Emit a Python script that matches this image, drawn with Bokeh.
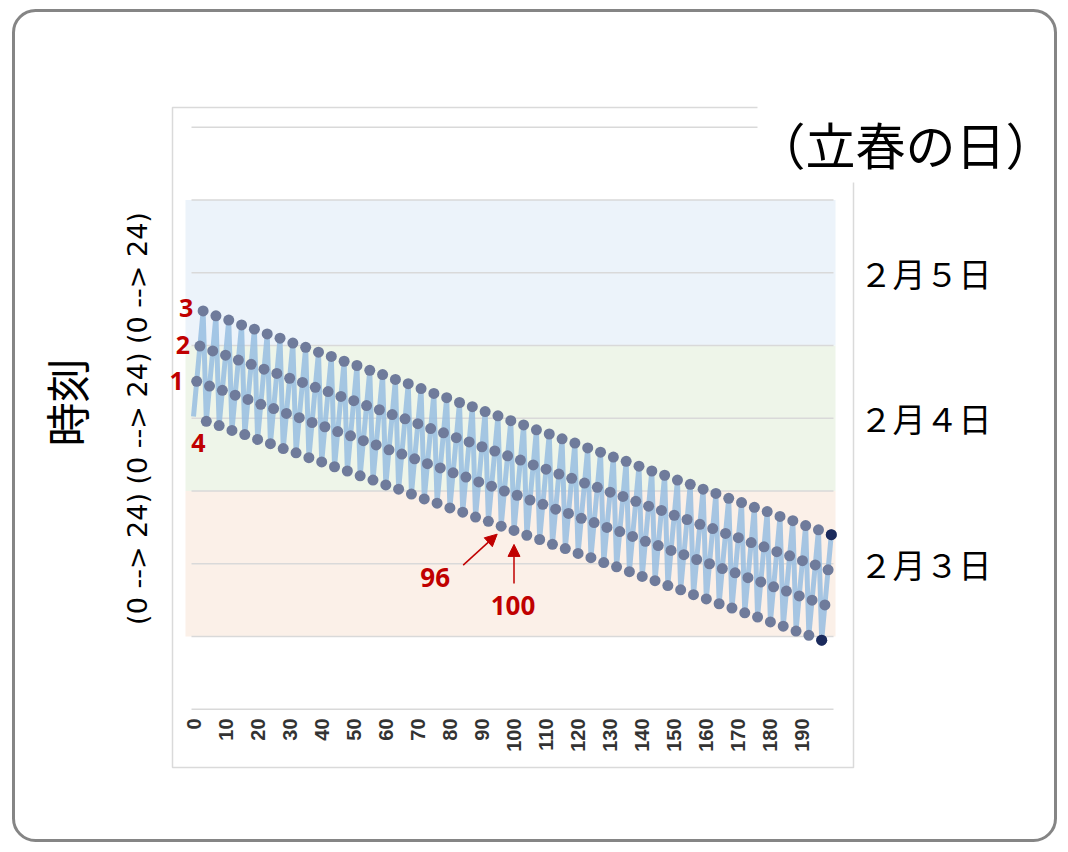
import math
from bokeh.plotting import figure
from bokeh.models import Range1d, Label, BoxAnnotation, Arrow, NormalHead
from bokeh.core.properties import value
from bokeh.embed import file_html
from bokeh.resources import INLINE

# ---------------- data ----------------
# hours counted from 2月3日 0:00, one point per year, 4-year cycle
series_0 = [36.3, 35.5, 34.8, 34.0, 33.3, 32.5, 31.8, 31.0, 30.3, 29.5,
            28.8, 28.0, 27.3, 26.5, 25.8, 25.0, 24.3, 23.5, 22.7, 22.0,
            21.2, 20.5, 19.7, 19.0, 18.2, 17.5, 16.7, 16.0, 15.2, 14.5,
            13.7, 13.0, 12.2, 11.5, 10.7, 9.9, 9.2, 8.4, 7.7, 6.9,
            6.2, 5.4, 4.7, 3.9, 3.2, 2.4, 1.7, 0.9, 0.2, -0.6]
series_1 = [42.1, 41.3, 40.6, 39.8, 39.1, 38.3, 37.6, 36.8, 36.1, 35.3,
            34.6, 33.8, 33.1, 32.3, 31.6, 30.8, 30.1, 29.3, 28.5, 27.8,
            27.0, 26.3, 25.5, 24.8, 24.0, 23.3, 22.5, 21.8, 21.0, 20.3,
            19.5, 18.8, 18.0, 17.3, 16.5, 15.7, 15.0, 14.2, 13.5, 12.7,
            12.0, 11.2, 10.5, 9.7, 9.0, 8.2, 7.5, 6.7, 6.0, 5.2]
series_2 = [47.9, 47.1, 46.4, 45.6, 44.9, 44.1, 43.4, 42.6, 41.9, 41.1,
            40.4, 39.6, 38.9, 38.1, 37.4, 36.6, 35.9, 35.1, 34.3, 33.6,
            32.8, 32.1, 31.3, 30.6, 29.8, 29.1, 28.3, 27.6, 26.8, 26.1,
            25.3, 24.6, 23.8, 23.1, 22.3, 21.5, 20.8, 20.0, 19.3, 18.5,
            17.8, 17.0, 16.3, 15.5, 14.8, 14.0, 13.3, 12.5, 11.8, 11.0]
series_3 = [53.7, 52.9, 52.2, 51.4, 50.7, 49.9, 49.2, 48.4, 47.7, 46.9,
            46.2, 45.4, 44.7, 43.9, 43.2, 42.4, 41.7, 40.9, 40.1, 39.4,
            38.6, 37.9, 37.1, 36.4, 35.6, 34.9, 34.1, 33.4, 32.6, 31.9,
            31.1, 30.4, 29.6, 28.9, 28.1, 27.3, 26.6, 25.8, 25.1, 24.3,
            23.6, 22.8, 22.1, 21.3, 20.6, 19.8, 19.1, 18.3, 17.6, 16.8]

x_ticks = [0, 10, 20, 30, 40, 50, 60, 70, 80, 90,
           100, 110, 120, 130, 140, 150, 160, 170, 180, 190]
x_tick_labels = [str(t) for t in x_ticks]
grid_levels = [-12, 0, 12, 24, 36, 48, 60, 72, 84]
band_bottoms = [0, 24, 48]
band_tops = [24, 48, 72]
band_labels = ["２月３日", "２月４日", "２月５日"]
band_colors = ["#fbf0e8", "#eef5e9", "#ecf3fa"]
title_text = "（立春の日）"
y_title = "時刻"
y_subtitle = "(0 --> 24) (0 --> 24) (0 --> 24)"
cycle_labels = ["1", "2", "3", "4"]     # points 1..4
cycle_index = [1, 2, 3, 4]
callout_index = [96, 100]
highlight_index = [196, 199]

# interleave the four cycle series into one sequence
ys = []
for k in range(len(series_0)):
    ys.extend([series_0[k], series_1[k], series_2[k], series_3[k]])
xs = list(range(len(ys)))

# ---------------- layout helpers ----------------
W, H = 1068, 852
PX0, SX = 193.0, 3.205      # pixel of x=0, px per unit
PY0, SY = 636.0, 6.0625     # pixel of y=0, px per hour

def dx(px):
    return (px - PX0) / SX

def dy(py):
    return (PY0 - py) / SY

RED = "#c00000"

p = figure(width=W, height=H,
           x_range=Range1d(dx(0), dx(W)), y_range=Range1d(dy(H), dy(0)),
           output_backend="svg", toolbar_location=None,
           x_axis_location=None, y_axis_location=None, min_border=0)
p.outline_line_color = None
p.xgrid.visible = False
p.ygrid.visible = False
p.background_fill_color = "white"
p.border_fill_color = "white"

# outer rounded border
p.add_layout(BoxAnnotation(left=dx(13), right=dx(1055), top=dy(10), bottom=dy(840),
                           fill_alpha=0, line_color="#858585", line_alpha=1, line_width=3,
                           line_dash="solid", border_radius=22, level="image"))
# inner chart frame
p.add_layout(BoxAnnotation(left=dx(172), right=dx(853), top=dy(107), bottom=dy(767),
                           fill_alpha=0, line_color="#dadada", line_alpha=1, line_width=1.5,
                           line_dash="solid", level="image"))

# bands
p.quad(left=dx(185), right=dx(835), bottom=band_bottoms, top=band_tops,
       fill_color=band_colors, line_color=None, level="image")
# gridlines
p.segment(x0=dx(191), x1=dx(833), y0=grid_levels, y1=grid_levels,
          line_color="#d9d9d9", line_width=1.5, level="underlay")

# zigzag line and markers
p.line(xs, ys, line_color="#97bde0", line_width=5, line_alpha=0.85)
p.scatter(xs[1:], ys[1:], size=11, fill_color="#6f7b9b", line_color=None)
p.scatter([xs[i] for i in highlight_index], [ys[i] for i in highlight_index],
          size=11, fill_color="#1b2a5c", line_color=None)

# x tick labels (rotated, reading bottom to top)
p.text(x=x_ticks, y=dy(718), text=x_tick_labels, angle=math.pi / 2,
       text_align="right", text_baseline="middle",
       text_font=value("Liberation Sans"), text_font_style="bold",
       text_font_size="20px", text_color="#333333")

# white box behind title
p.add_layout(BoxAnnotation(left=dx(757), right=dx(1048), top=dy(100), bottom=dy(182),
                           fill_color="white", fill_alpha=1, line_color=None))

# labels
p.add_layout(Label(x=dx(905), y=dy(142), text=title_text, text_align="center",
                   text_baseline="middle", text_font="Noto Sans CJK JP",
                   text_font_size="50px", text_color="black"))
for b0, b1, t in zip(band_bottoms, band_tops, band_labels):
    p.add_layout(Label(x=dx(925), y=(b0 + b1) / 2, text=t, text_align="center",
                       text_baseline="middle", text_font="Noto Sans CJK JP",
                       text_font_size="33px", text_color="black"))
p.add_layout(Label(x=dx(65), y=dy(402), text=y_title, angle=math.pi / 2,
                   text_align="center", text_baseline="middle",
                   text_font="Noto Sans CJK JP", text_font_size="44px", text_color="black"))
p.add_layout(Label(x=dx(137), y=dy(418), text=y_subtitle, angle=math.pi / 2,
                   text_align="center", text_baseline="middle",
                   text_font="DejaVu Sans", text_font_size="27px", text_color="black"))

# cycle labels next to points 1..4 (pixel offsets)
cyc_off = [(-20, 0), (-17, -1), (-17, -3), (-8, 22)]
for lab, i, (ox, oy) in zip(cycle_labels, cycle_index, cyc_off):
    p.add_layout(Label(x=xs[i] + ox / SX, y=ys[i] - oy / SY, text=lab,
                       text_align="center", text_baseline="middle",
                       text_font="Open Sans", text_font_style="bold",
                       text_font_size="25px", text_color=RED))

# callouts for 96 and 100
lab_off = [(-66, 51), (-1, 75)]
arr_start = [(-38, 39), (0, 53)]
arr_end = [(-4, 8), (0, 14)]
for i, (lx, ly), (sx0, sy0), (ex0, ey0) in zip(callout_index, lab_off, arr_start, arr_end):
    p.add_layout(Label(x=xs[i] + lx / SX, y=ys[i] - ly / SY, text=str(xs[i]),
                       text_align="center", text_baseline="middle",
                       text_font="Open Sans", text_font_style="bold",
                       text_font_size="26px", text_color=RED))
    p.add_layout(Arrow(x_start=xs[i] + sx0 / SX, y_start=ys[i] - sy0 / SY,
                       x_end=xs[i] + ex0 / SX, y_end=ys[i] - ey0 / SY,
                       line_color=RED, line_width=1.5,
                       end=NormalHead(size=12, fill_color=RED, line_color=RED)))

open("out.html", "w").write(file_html(p, INLINE))
